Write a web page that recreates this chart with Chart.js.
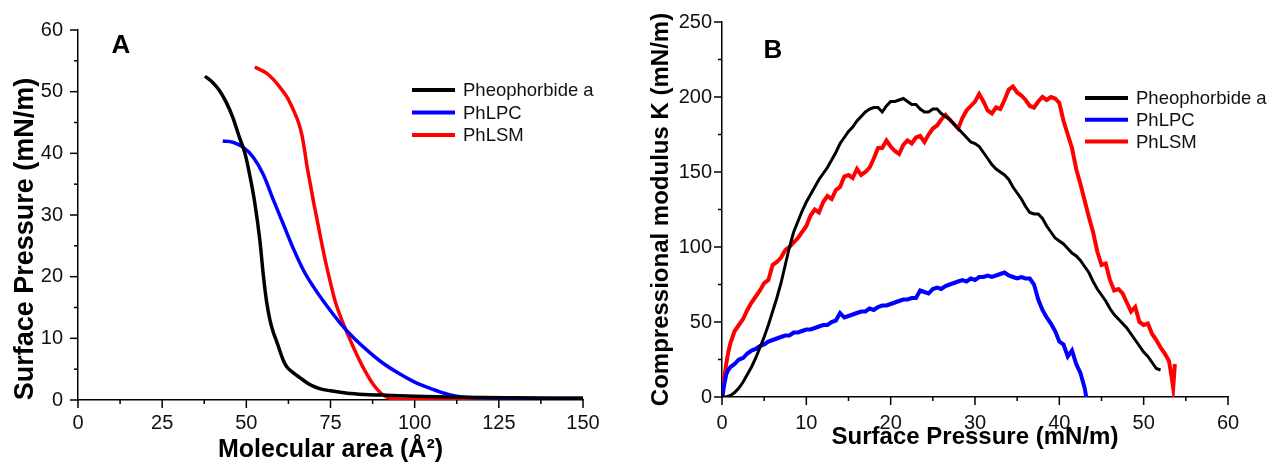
<!DOCTYPE html>
<html>
<head>
<meta charset="utf-8">
<script src="https://cdn.jsdelivr.net/npm/chart.js@4/dist/chart.umd.min.js"></script>
<style>
  html, body { margin: 0; padding: 0; background: #fff; }
  #wrap { position: relative; width: 1270px; height: 464px; }
  #wrapA { position: absolute; left: 0; top: 0; width: 640px; height: 464px; }
  #wrapB { position: absolute; left: 640px; top: 0; width: 630px; height: 464px; }
</style>
</head>
<body>
<div id="wrap">
  <div id="wrapA"><canvas id="chartA"></canvas></div>
  <div id="wrapB"><canvas id="chartB"></canvas></div>
</div>
<script>
// ---- panel A : isotherms (molecular area vs surface pressure)
var seriesNames = ['Pheophorbide a', 'PhLPC', 'PhLSM'];
var seriesColors = ['#000000', '#0000ff', '#ff0000'];

var areaPheo = [37.7, 40, 42, 44, 46, 48, 49.6, 51, 52.5, 54, 55, 56, 57, 58, 59, 61, 62, 64, 66, 68, 70, 72, 75, 80, 85, 90, 100, 110, 120, 130, 140, 150];
var piPheo   = [52.5, 51.5, 50.2, 48.3, 45.8, 42.5, 40, 36.5, 32, 26, 20.5, 16, 13, 11, 9.5, 6.4, 5.4, 4.4, 3.6, 2.8, 2.2, 1.8, 1.5, 1.1, 0.9, 0.8, 0.6, 0.5, 0.4, 0.35, 0.3, 0.3];

var areaLPC = [43, 46, 49, 52, 55, 58, 61, 64, 67, 70, 74, 78, 82, 86, 90, 95, 100, 105, 110, 114, 120, 130, 140, 150];
var piLPC   = [42, 41.8, 41, 39.4, 36.6, 32.5, 28.5, 24.5, 21, 18.3, 15.2, 12.4, 10, 8, 6.2, 4.4, 2.9, 1.8, 0.9, 0.5, 0.35, 0.3, 0.3, 0.3];

var areaLSM = [52.5, 54, 56, 58, 60, 62, 64, 65.5, 66.5, 67.3, 68, 69, 70, 71, 72, 73.5, 75, 76.5, 78, 80, 82, 84, 86, 88, 90, 92, 95, 100, 110, 120, 130, 140, 150];
var piLSM   = [54, 53.6, 53, 52, 50.7, 49.2, 47, 45, 43, 40.5, 38, 35, 32, 29.3, 26.5, 22.5, 19, 15.8, 13.5, 10.8, 8.3, 6, 4, 2.3, 1.1, 0.4, 0.15, 0.1, 0.1, 0.1, 0.1, 0.1, 0.1];

// ---- panel B : compressional modulus vs surface pressure
var piB_Pheo = [0, 0.5, 1, 1.5, 2, 2.5, 3, 3.5, 4, 4.5, 5, 5.5, 6, 6.5, 7, 7.5, 8, 8.5, 9, 9.5, 10, 10.5, 11, 11.5, 12, 12.5, 13, 13.5, 14, 14.5, 15, 15.5, 16, 16.5, 17, 17.5, 18, 18.5, 19, 19.5, 20, 20.5, 21, 21.5, 22, 22.5, 23, 23.5, 24, 24.5, 25, 25.5, 26, 26.5, 27, 27.5, 28, 28.5, 29, 29.5, 30, 30.5, 31, 31.5, 32, 32.5, 33, 33.5, 34, 34.5, 35, 35.5, 36, 36.5, 37, 37.5, 38, 38.5, 39, 39.5, 40, 40.5, 41, 41.5, 42, 42.5, 43, 43.5, 44, 44.5, 45, 45.5, 46, 46.5, 47, 47.5, 48, 48.5, 49, 49.5, 50, 50.5, 51, 51.5, 52];
var kPheo    = [0, 0, 1, 3, 6, 10, 15, 20, 26, 33, 40, 48, 57, 66, 76, 88, 100, 110, 117, 124, 130, 135, 140, 145, 149, 153, 158, 163, 169, 173, 177, 180, 184, 187, 190, 192, 193, 193, 190, 194, 197, 197, 198, 199, 197, 195, 195, 192, 190, 190, 192, 192, 189, 187, 185, 182, 179, 176, 173, 170, 169, 167, 163, 159, 155, 152, 150, 148, 145, 140, 136, 132, 127, 123, 122, 122, 119, 114, 110, 106, 104, 102, 99, 96, 94, 91, 87, 83, 77, 72, 68, 64, 59, 55, 52, 49, 46, 42, 38, 34, 30, 27, 23, 19, 18];

var piB_LPC = [0, 0.25, 0.5, 0.75, 1, 1.5, 2, 2.5, 3, 3.5, 4, 4.5, 5, 5.5, 6, 6.5, 7, 7.5, 8, 8.5, 9, 9.5, 10, 10.5, 11, 11.5, 12, 12.5, 13, 13.5, 14, 14.5, 15, 15.5, 16, 16.5, 17, 17.5, 18, 18.5, 19, 19.5, 20, 20.5, 21, 21.5, 22, 22.5, 23, 23.5, 24, 24.5, 25, 25.5, 26, 26.5, 27, 27.5, 28, 28.5, 29, 29.5, 30, 30.5, 31, 31.5, 32, 32.5, 33, 33.5, 34, 34.5, 35, 35.5, 36, 36.5, 37, 37.5, 38, 38.5, 39, 39.5, 40, 40.5, 41, 41.5, 42, 42.5, 43, 43.2];
var kLPC    = [-2, 8, 15, 18, 20, 22, 25, 26, 29, 31, 32, 34, 35, 37, 38, 39, 40, 41, 41, 43, 43, 44, 45, 45, 46, 47, 48, 48, 50, 51, 56, 53, 54, 55, 56, 57, 57, 59, 58, 60, 61, 61, 62, 63, 64, 65, 65, 66, 66, 71, 70, 69, 72, 73, 72, 74, 75, 76, 77, 78, 77, 79, 78, 80, 80, 81, 80, 81, 82, 83, 81, 80, 79, 80, 79, 79, 75, 65, 58, 53, 49, 44, 37, 35, 27, 31, 22, 16, 6, 0];

var piB_LSM = [0, 0.25, 0.5, 0.75, 1, 1.25, 1.5, 2, 2.5, 3, 3.5, 4, 4.5, 5, 5.5, 6, 6.5, 7, 7.5, 8, 8.5, 9, 9.5, 10, 10.5, 11, 11.5, 12, 12.5, 13, 13.5, 14, 14.5, 15, 15.5, 16, 16.5, 17, 17.5, 18, 18.5, 19, 19.5, 20, 20.5, 21, 21.5, 22, 22.5, 23, 23.5, 24, 24.5, 25, 25.5, 26, 26.5, 27, 27.5, 28, 28.5, 29, 29.5, 30, 30.5, 31, 31.5, 32, 32.5, 33, 33.5, 34, 34.5, 35, 35.5, 36, 36.5, 37, 37.5, 38, 38.5, 39, 39.5, 40, 40.5, 41, 41.5, 42, 42.5, 43, 43.5, 44, 44.5, 45, 45.5, 46, 46.5, 47, 47.5, 48, 48.5, 49, 49.5, 50, 50.5, 51, 51.5, 52, 52.5, 53, 53.3, 53.5, 53.7];
var kLSM    = [0, 12, 22, 30, 36, 40, 44, 48, 52, 58, 63, 67, 71, 76, 78, 88, 90, 93, 98, 100, 103, 106, 110, 114, 121, 125, 123, 130, 134, 132, 138, 140, 147, 148, 146, 152, 148, 150, 153, 159, 166, 166, 171, 167, 164, 162, 168, 171, 169, 173, 174, 170, 175, 179, 181, 185, 188, 185, 182, 179, 186, 191, 194, 197, 202, 197, 191, 189, 193, 192, 198, 205, 207, 203, 201, 198, 194, 193, 197, 200, 198, 200, 199, 196, 184, 175, 166, 152, 142, 131, 120, 110, 97, 88, 89, 78, 71, 72, 69, 63, 57, 60, 50, 48, 49, 42, 38, 33, 29, 24, 14, 6, 22];

function zip(xs, ys) {
  return xs.map(function (x, i) { return { x: x, y: ys[i] }; });
}

var FONT = "'Liberation Sans', Arial, sans-serif";

// outward ticks: long ones at labelled values, short ones between
var tickMarks = {
  id: 'tickMarks',
  afterDraw: function (chart) {
    var ctx = chart.ctx;
    var area = chart.chartArea;
    ctx.save();
    ctx.strokeStyle = '#000';
    ctx.lineWidth = 1.5;
    ['x', 'y'].forEach(function (id) {
      var scale = chart.scales[id];
      var major = scale.options.majorStep;
      scale.ticks.forEach(function (t) {
        var isMajor = Math.abs(t.value / major - Math.round(t.value / major)) < 1e-6;
        var len = isMajor ? 8 : 4;
        var p = scale.getPixelForValue(t.value);
        ctx.beginPath();
        if (id === 'x') {
          ctx.moveTo(p, area.bottom);
          ctx.lineTo(p, area.bottom + len);
        } else {
          ctx.moveTo(area.left, p);
          ctx.lineTo(area.left - len, p);
        }
        ctx.stroke();
      });
    });
    ctx.restore();
  }
};

// legend inside the plot, panel letter, and an optional free-placed y title
var innerLegend = {
  id: 'innerLegend',
  afterDraw: function (chart, args, opts) {
    var ctx = chart.ctx;
    ctx.save();
    ctx.fillStyle = '#000';
    ctx.textBaseline = 'middle';
    if (opts.yTitle) {
      ctx.save();
      ctx.font = 'bold ' + opts.yTitleSize + 'px ' + FONT;
      ctx.translate(opts.yTitleX, opts.yTitleY);
      ctx.rotate(-Math.PI / 2);
      ctx.textAlign = 'center';
      ctx.fillText(opts.yTitle, 0, 0);
      ctx.restore();
    }
    ctx.font = 'bold 26px ' + FONT;
    ctx.textAlign = 'center';
    ctx.fillText(opts.letter, opts.letterX, opts.letterY);
    ctx.font = '18.5px ' + FONT;
    ctx.textAlign = 'left';
    chart.data.datasets.forEach(function (ds, i) {
      var y = opts.y + i * opts.gap;
      ctx.strokeStyle = ds.borderColor;
      ctx.lineWidth = 4;
      ctx.beginPath();
      ctx.moveTo(opts.x, y);
      ctx.lineTo(opts.x + 43, y);
      ctx.stroke();
      ctx.fillStyle = '#111';
      ctx.fillText(ds.label, opts.x + 51, y + 1);
    });
    ctx.restore();
  }
};

function makeDatasets(pairs, widths, smooth) {
  return pairs.map(function (d, i) {
    return {
      label: seriesNames[i],
      data: d,
      borderColor: seriesColors[i],
      backgroundColor: seriesColors[i],
      borderWidth: widths[i],
      pointRadius: 0,
      cubicInterpolationMode: smooth ? 'monotone' : 'default',
      tension: 0,
      fill: false
    };
  });
}

function axis(opts) {
  return {
    type: 'linear',
    min: opts.min,
    max: opts.max,
    majorStep: opts.major,
    grid: { display: false },
    border: { display: true, color: '#000', width: 1.5 },
    afterFit: opts.fit,
    title: {
      display: opts.title !== '',
      text: opts.title,
      color: '#000',
      font: { family: FONT, size: opts.titleSize, weight: 'bold', lineHeight: 1 },
      padding: opts.titlePad
    },
    ticks: {
      stepSize: opts.minor,
      autoSkip: false,
      maxRotation: 0,
      padding: opts.tickPad,
      color: '#111',
      font: { family: FONT, size: 20 },
      callback: function (v) {
        return Math.abs(v / opts.major - Math.round(v / opts.major)) < 1e-6 ? v : '';
      }
    }
  };
}

var chartA = new Chart(document.getElementById('chartA'), {
  type: 'line',
  data: {
    datasets: makeDatasets([
      zip(areaPheo, piPheo),
      zip(areaLPC, piLPC),
      zip(areaLSM, piLSM)
    ], [3.5, 3.5, 3.5], true)
  },
  options: {
    animation: false,
    responsive: true,
    maintainAspectRatio: false,
    layout: { padding: { top: 30, right: 57, left: 0, bottom: 0 } },
    plugins: {
      legend: { display: false },
      tooltip: { enabled: false },
      innerLegend: {
        x: 412, y: 90, gap: 22.5, letter: 'A', letterX: 121, letterY: 46,
        yTitle: 'Surface Pressure (mN/m)', yTitleSize: 27, yTitleX: 26, yTitleY: 239
      }
    },
    scales: {
      x: axis({ min: 0, max: 150, minor: 12.5, major: 25, title: 'Molecular area (Å²)', titleSize: 25,
        titlePad: { top: 0, bottom: 1 }, tickPad: 3,
        fit: function (s) { s.height = 64; } }),
      y: axis({ min: 0, max: 60, minor: 5, major: 10, title: '', titleSize: 27,
        titlePad: { top: 0, bottom: 0 }, tickPad: 7,
        fit: function (s) { s.width = 78; } })
    }
  },
  plugins: [tickMarks, innerLegend]
});

var chartB = new Chart(document.getElementById('chartB'), {
  type: 'line',
  data: {
    datasets: makeDatasets([
      zip(piB_Pheo, kPheo),
      zip(piB_LPC, kLPC),
      zip(piB_LSM, kLSM)
    ], [3, 4, 4], false)
  },
  options: {
    animation: false,
    responsive: true,
    maintainAspectRatio: false,
    layout: { padding: { top: 22, right: 42, left: 0, bottom: 0 } },
    plugins: {
      legend: { display: false },
      tooltip: { enabled: false },
      innerLegend: { x: 445, y: 98, gap: 21.8, letter: 'B', letterX: 133, letterY: 51 }
    },
    scales: {
      x: axis({ min: 0, max: 60, minor: 5, major: 10, title: 'Surface Pressure (mN/m)', titleSize: 24,
        titlePad: { top: 0, bottom: 15 }, tickPad: 6,
        fit: function (s) { s.height = 67; } }),
      y: axis({ min: 0, max: 250, minor: 25, major: 50, title: 'Compressional modulus K (mN/m)', titleSize: 24,
        titlePad: { top: 9, bottom: 0 }, tickPad: 2,
        fit: function (s) { s.width = 82; } })
    }
  },
  plugins: [tickMarks, innerLegend]
});
</script>
</body>
</html>
